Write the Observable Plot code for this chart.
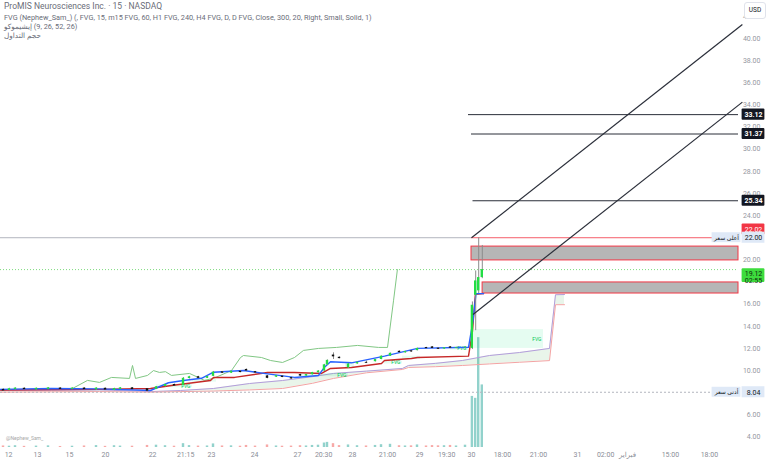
<!DOCTYPE html>
<html><head><meta charset="utf-8">
<script src="https://cdn.jsdelivr.net/npm/d3@7"></script>
<script src="https://cdn.jsdelivr.net/npm/@observablehq/plot@0.6"></script>
<style>
body{margin:0;background:#fff;font-family:Roboto,"DejaVu Sans",sans-serif;}
#wrap{position:relative;width:768px;height:463px;overflow:hidden;background:#fff;}
#wrap svg{position:absolute;left:0;top:0;}
.hdr{position:absolute;left:4px;font-size:7.3px;line-height:9px;color:#6a6d78;white-space:nowrap;direction:ltr;}
.hdr.t{font-size:8.5px;}
#usd{position:absolute;left:744px;top:2px;width:20px;height:15px;border:1px solid #e0e3eb;border-radius:3px;background:#fff;font-size:6.5px;line-height:15px;text-align:center;color:#131722;}
#wm{position:absolute;left:6px;top:435px;font-size:5px;color:#a8a8a8;}
</style></head>
<body><div id="wrap"></div>
<script>
// ---------- data ----------
const candleIdx = [1,3,5,8,12,16,20,24,28,32,35,38,40,44,49,52,55,58,61,63,66,69,71,74,77,80,82,85,89,92,94,97,100,102,104,106,108,109,111,113,116,119,122,125,127,130,133,135,137,139,142,144,146,148,150,152,155,157.3,158.4,159.4,160.6];
const opens  = [8.30,8.20,8.28,8.40,8.26,8.30,8.42,8.30,8.42,8.26,8.40,8.22,8.30,8.44,8.36,8.30,8.56,8.74,8.64,9.28,9.44,9.30,9.48,9.88,9.76,9.94,10.10,9.90,9.52,9.40,9.50,9.36,9.64,9.50,9.62,9.80,9.96,10.50,11.40,11.20,10.24,10.60,10.74,10.80,11.00,11.30,11.74,11.60,11.78,11.80,12.08,12.14,12.02,11.94,12.14,12.00,12.04,12.00,16.80,17.20,18.40];
const highs  = [8.34,8.40,8.44,8.44,8.42,8.46,8.45,8.44,8.44,8.44,8.42,8.40,8.46,8.46,8.38,8.56,8.76,8.78,9.36,9.48,9.48,9.50,9.92,9.92,9.96,9.98,10.14,9.92,9.56,9.56,9.52,9.40,9.68,9.66,9.84,9.98,10.56,10.96,11.60,11.24,10.64,10.76,10.86,11.02,11.32,11.58,11.78,11.74,11.80,12.02,12.10,12.16,12.04,12.08,12.16,12.10,12.14,16.20,19.00,22.00,21.30];
const lows   = [8.12,8.18,8.25,8.26,8.24,8.28,8.28,8.28,8.26,8.22,8.22,8.18,8.28,8.26,8.10,8.28,8.52,8.58,8.62,9.24,9.28,9.28,9.46,9.74,9.74,9.80,9.94,9.76,9.26,9.38,9.36,9.22,9.48,9.48,9.60,9.78,9.94,10.48,11.00,11.06,10.20,10.58,10.64,10.78,10.98,11.28,11.60,11.58,11.66,11.78,11.96,11.98,11.90,11.92,12.00,11.98,12.02,11.90,13.60,16.96,18.30];
const closes = [8.16,8.36,8.42,8.28,8.40,8.44,8.30,8.42,8.28,8.42,8.24,8.38,8.44,8.28,8.14,8.54,8.74,8.60,9.30,9.44,9.30,9.46,9.86,9.76,9.94,9.82,9.96,9.78,9.30,9.54,9.38,9.24,9.50,9.64,9.82,9.96,10.52,10.92,11.24,11.08,10.60,10.74,10.66,11.00,11.30,11.56,11.62,11.72,11.68,12.00,11.98,12.00,11.92,12.06,12.02,12.08,12.12,15.90,18.10,18.40,19.12];
const volumes = [0.12,0.10,0.14,0.09,0.11,0.13,0.08,0.10,0.12,0.15,0.09,0.14,0.11,0.10,0.16,0.18,0.14,0.10,0.30,0.15,0.11,0.12,0.28,0.12,0.13,0.10,0.16,0.11,0.20,0.12,0.10,0.11,0.14,0.12,0.16,0.18,0.35,0.40,0.30,0.15,0.20,0.14,0.12,0.16,0.22,0.25,0.14,0.12,0.13,0.20,0.12,0.15,0.13,0.14,0.16,0.12,0.18,4.0,3.85,8.6,4.9];

const tenkan = [[0,8.3],[17,8.38],[33,8.35],[50,8.2],[56,8.9],[61,9.1],[67,9.3],[71,9.85],[81,10.0],[89,9.7],[98,9.38],[106,9.56],[108,10.3],[110,10.8],[117,10.7],[128,11.3],[139,12.0],[156,12.1],[157.5,14.5],[158.5,16.95],[161,16.95]];
const kijun  = [[0,8.25],[33,8.3],[50,8.38],[57,8.65],[70,9.1],[71,9.38],[78,9.38],[89,9.83],[98,9.83],[107,9.74],[110,10.19],[117,10.28],[127,10.64],[128,10.91],[137,11.09],[139,11.18],[156,11.3],[157.3,13.5],[158.3,16.9],[161,16.95]];
const chikou = [[24,8.38],[29,9.11],[33,8.93],[37,9.38],[43,9.29],[44,10.46],[45,9.29],[49,9.56],[51,10.0],[53,9.83],[55,9.9],[57,9.56],[63,9.74],[68,9.11],[71,9.3],[77,10.0],[80,11.18],[81,11.36],[87,11.18],[90,10.91],[94,10.73],[98,11.18],[101,11.82],[106,12.0],[112,12.09],[119,12.27],[126,12.09],[129,12.09],[131,16.3],[132.3,19.12]];
const cloudIdx = [0,17,33,50,60,71,83,94,104,111,122,134,136,145,154,163,173,183,185,188];
const senkouA  = [8.20,8.22,8.25,8.10,8.20,8.38,8.83,9.10,9.45,9.74,9.95,10.19,10.46,10.65,10.91,11.36,11.63,12.00,16.85,16.87];
const senkouB  = [8.05,8.08,8.10,8.05,8.10,8.15,8.25,8.38,8.85,9.29,9.80,10.10,10.28,10.35,10.46,10.60,10.75,10.90,15.95,15.95];

const fvgFrom  = [52,64,100,115,128,134,150,158];
const fvgTo    = [64,72,116,118,134,140,156,181];
const fvgLow   = [8.45,8.95,9.45,10.2,10.6,11.0,11.85,12.0];
const fvgHigh  = [8.70,9.20,9.75,10.75,10.85,11.3,12.1,13.7];
const fvgLabel = [true,false,true,false,true,false,true,true];

const zoneFrom = [157,160.7];
const zoneLow  = [19.95,16.96];
const zoneHigh = [21.2,17.96];

const levelPrices = [33.12,31.37,25.34];
const levelFrom   = [156,157,157.5];

const channelFrom  = [157,157.5];
const channelStart = [22.0,15.07];
const channelTo    = [247.3,247.3];
const channelEnd   = [41.26,34.25];

const highPrice = 22.00, highShown = 22.02, lowPrice = 8.04, lastPrice = 19.12, countdown = "02:55";
const highFrom = 157;
const yTicks = [4,6,10,12,14,16,20,24,26,28,30,32,34,36,38,40,42];
const xTickIdx = [2.7,12.3,23,35,50.7,61.7,70.3,84.7,99,107.7,117.3,129,139.7,148.7,157,167.3,179.3,192.3,201.7,209,223.3,236.3];
const xTickLabels = ["12","13","15","20","22","21:15","23","24","27","20:30","28","21:00","29","19:30","30","18:00","21:00","31","02:00","فبراير","15:00","18:00"];

// ---------- tables ----------
const candles = candleIdx.map((i,k)=>({i,o:opens[k],h:highs[k],l:lows[k],c:closes[k],v:volumes[k]}));
const cloud = cloudIdx.map((i,k)=>({i,a:senkouA[k],b:senkouB[k]}));
const fvg = fvgFrom.map((x1,k)=>({x1,x2:fvgTo[k],lo:fvgLow[k],hi:fvgHigh[k],label:fvgLabel[k]}));
const zones = zoneFrom.map((x1,k)=>({x1,lo:zoneLow[k],hi:zoneHigh[k]}));
const levels = levelPrices.map((p,k)=>({p,from:levelFrom[k]}));
const channel = channelFrom.map((x1,k)=>({x1,y1:channelStart[k],x2:channelTo[k],y2:channelEnd[k]}));
const tickMap = new Map(xTickIdx.map((d,k)=>[d,xTickLabels[k]]));
const darkTags = levels.map(d=>({p:d.p,text:d.p.toFixed(2)}));
const lastIdx = 246;

// ---------- layout ----------
const W=768,H=463;
const frame = {width:W,height:H,marginLeft:0,marginRight:30,marginTop:0,marginBottom:16};
const font = "Roboto, 'DejaVu Sans', sans-serif";
const tagL = ()=>247.2, tagR = ()=>254.8, tagMid = ()=>251;
const up = d=>d.c>=d.o;

const vol = Plot.plot({
  ...frame,
  x:{domain:[0,lastIdx],axis:null},
  y:{domain:[0,35],axis:null},
  style:{background:"transparent"},
  marks:[
    Plot.rect(candles,{x1:d=>d.i-0.4,x2:d=>d.i+0.4,y1:0,y2:"v",fill:d=>up(d)?"#26a69a":"#ef5350",fillOpacity:0.5})
  ]
});

const main = Plot.plot({
  ...frame,
  x:{domain:[0,lastIdx],axis:null},
  y:{domain:[3.05,43.43],axis:null},
  style:{background:"transparent",fontFamily:font,overflow:"visible"},
  marks:[
    Plot.areaY(cloud,{x:"i",y1:"b",y2:"a",fill:"#4caf50",fillOpacity:0.12}),
    Plot.line(cloud,{x:"i",y:"a",stroke:"#b39ddb",strokeWidth:1}),
    Plot.line(cloud,{x:"i",y:"b",stroke:"#f3a3a3",strokeWidth:1}),
    Plot.rect(fvg,{x1:"x1",x2:"x2",y1:"lo",y2:"hi",fill:"#00e676",fillOpacity:0.1}),
    Plot.text(fvg.filter(d=>d.label),{x:"x2",y:d=>(d.lo+d.hi)/2,text:()=>"FVG",textAnchor:"end",dx:-2,fontSize:5,fill:"#00c853"}),
    Plot.ruleY([lastPrice],{stroke:"#7ddc7d",strokeDasharray:"1,2",strokeWidth:1}),
    Plot.ruleY([lowPrice],{stroke:"#b2b5be",strokeDasharray:"2,2",strokeWidth:1}),
    Plot.ruleY([highPrice],{x1:()=>0,x2:()=>highFrom,stroke:"#b2b5be",strokeWidth:1}),
    Plot.ruleY([highPrice],{x1:()=>highFrom,x2:()=>lastIdx,stroke:"#f23645",strokeWidth:0.8}),
    Plot.rect(zones,{x1:"x1",x2:()=>lastIdx,y1:"lo",y2:"hi",fill:"#b6b6b6",stroke:"#f23645",strokeWidth:1}),
    Plot.line(chikou,{x:d=>d[0],y:d=>d[1],stroke:"#81c784",strokeWidth:1}),
    Plot.line(kijun,{x:d=>d[0],y:d=>d[1],stroke:"#c62828",strokeWidth:1.4}),
    Plot.line(tenkan,{x:d=>d[0],y:d=>d[1],stroke:"#2962ff",strokeWidth:1.4}),
    Plot.ruleX(candles,{x:"i",y1:"l",y2:"h",stroke:"#8c8c8c",strokeWidth:1}),
    Plot.rect(candles,{x1:d=>d.i-0.4,x2:d=>d.i+0.4,y1:"o",y2:"c",fill:d=>up(d)?"#22dd44":"#111111"}),
    Plot.ruleY(levels,{y:"p",x1:"from",x2:()=>lastIdx,stroke:"#2a2e39",strokeWidth:1}),
    Plot.link(channel,{x1:"x1",y1:"y1",x2:"x2",y2:"y2",stroke:"#2a2e39",strokeWidth:1.2}),
    Plot.axisX({ticks:xTickIdx,tickFormat:d=>tickMap.get(d),tickSize:0,tickPadding:5,fontSize:7,fill:"#8a8d96",anchor:"bottom"}),
    Plot.text(yTicks,{y:d=>d,text:d=>d.toFixed(2),frameAnchor:"right",textAnchor:"end",dx:22,fontSize:7,fill:"#9598a1"}),
    Plot.rect(darkTags,{x1:tagL,x2:tagR,y1:d=>d.p-0.5,y2:d=>d.p+0.5,fill:"#131722",rx:1}),
    Plot.text(darkTags,{x:tagMid,y:"p",text:"text",fill:"#ffffff",fontSize:7,fontWeight:"bold"}),
    Plot.rect([highShown],{x1:tagL,x2:tagR,y1:d=>d-0.5,y2:d=>d+0.5,dy:-8,fill:"#f23645",rx:1}),
    Plot.text([highShown],{x:tagMid,y:d=>d,dy:-8,text:d=>d.toFixed(2),fill:"#ffffff",fontSize:7}),
    Plot.rect([highPrice,lowPrice],{x1:()=>237.2,x2:()=>246.8,y1:d=>d-0.45,y2:d=>d+0.45,fill:"#dfe9f7"}),
    Plot.rect([highPrice,lowPrice],{x1:tagL,x2:tagR,y1:d=>d-0.5,y2:d=>d+0.5,fill:"#dfe9f7"}),
    Plot.text([highPrice],{x:()=>242,y:d=>d,text:()=>"أعلى سعر",fill:"#131722",fontSize:6}),
    Plot.text([lowPrice],{x:()=>242,y:d=>d,text:()=>"أدنى سعر",fill:"#131722",fontSize:6}),
    Plot.text([highPrice,lowPrice],{x:tagMid,y:d=>d,text:d=>d.toFixed(2),fill:"#131722",fontSize:7}),
    Plot.rect([lastPrice],{x1:tagL,x2:tagR,y1:d=>d+0.08,y2:d=>d-1.17,fill:"#3ddc3d",rx:1}),
    Plot.text([lastPrice],{x:tagMid,y:d=>d,dy:4,text:d=>d.toFixed(2),fill:"#10300f",fontSize:7}),
    Plot.text([lastPrice],{x:tagMid,y:d=>d,dy:11,text:()=>countdown,fill:"#10300f",fontSize:7})
  ]
});

const wrap = document.getElementById("wrap");
wrap.appendChild(vol);
wrap.appendChild(main);
const hdr = [
  ["ProMIS Neurosciences Inc. · 15 · NASDAQ",2,"hdr t"],
  ["FVG (Nephew_Sam_) (, FVG, 15, m15 FVG, 60, H1 FVG, 240, H4 FVG, D, D FVG, Close, 300, 20, Right, Small, Solid, 1)",12.5,"hdr"],
  ["\u2066إيشيموكو\u2069 (9, 26, 52, 26)",21.5,"hdr"],
  ["\u2066حجم التداول\u2069",30.5,"hdr"]
];
for (const [t,top,cls] of hdr){
  const d=document.createElement("div");d.className=cls;d.style.top=top+"px";d.textContent=t;wrap.appendChild(d);
}
const usd=document.createElement("div");usd.id="usd";usd.textContent="USD";wrap.appendChild(usd);
const wm=document.createElement("div");wm.id="wm";wm.textContent="@Nephew_Sam_";wrap.appendChild(wm);
</script>
</body></html>
